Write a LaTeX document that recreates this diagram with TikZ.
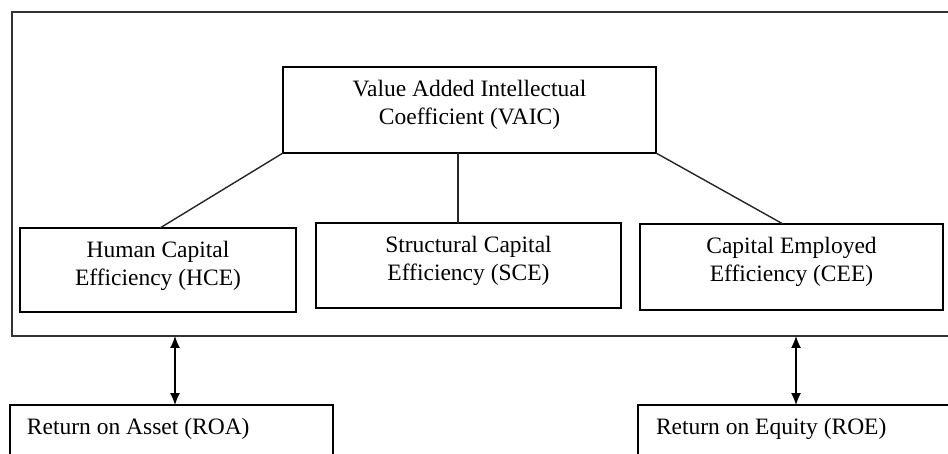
\documentclass[tikz,border=0pt]{standalone}
\usepackage{fontspec}
\setmainfont{Liberation Serif}
\usetikzlibrary{arrows.meta}
\begin{document}
\begin{tikzpicture}[x=1pt,y=-1pt,
  every node/.style={inner sep=0pt, outer sep=0pt},
  box/.style={draw=black, line width=1.4pt, rectangle, anchor=north west},
  outerbox/.style={draw=black!80, line width=1.7pt, rectangle, anchor=north west},
  txt/.style={anchor=north, align=center, font=\fontsize{23.5}{28}\selectfont},
  ltxt/.style={anchor=north west, align=left, font=\fontsize{23.5}{28}\selectfont},
  conn/.style={draw=black!85, line width=1.4pt},
  dbl/.style={draw=black, line width=1.2pt, {Latex[length=12pt,width=10pt]}-{Latex[length=12pt,width=10pt]}}
]
\useasboundingbox (0,0) rectangle (948,454);
\clip (0,0) rectangle (948,454);
\fill[white] (0,0) rectangle (948,454);

% outer frame
\node[outerbox, minimum width=960pt, minimum height=324pt] (outer) at (12,12) {};

% boxes
\node[box, minimum width=373pt, minimum height=86pt] (vaic) at (283,67) {};
\node[box, minimum width=276pt, minimum height=84pt] (hce) at (20,228) {};
\node[box, minimum width=305pt, minimum height=85pt] (sce) at (316,223) {};
\node[box, minimum width=303pt, minimum height=86pt] (cee) at (640,224) {};
\node[box, minimum width=323pt, minimum height=80pt] (roa) at (10,405) {};
\node[box, minimum width=340pt, minimum height=80pt] (roe) at (638,405) {};

% texts
\node[txt] (vaict) at ([yshift=-10.4pt]vaic.north) {\strut Value Added Intellectual\\Coefficient (VAIC)};
\node[txt] (hcet) at ([yshift=-10.4pt]hce.north) {\strut Human Capital\\Efficiency (HCE)};
\node[txt] (scet) at ([yshift=-10.4pt]sce.north) {\strut Structural Capital\\Efficiency (SCE)};
\node[txt] (ceet) at ([yshift=-10.4pt]cee.north) {\strut Capital Employed\\Efficiency (CEE)};
\node[ltxt] (roat) at ([xshift=17pt,yshift=-9.4pt]roa.north west) {\strut Return on Asset (ROA)};
\node[ltxt] (roet) at ([xshift=18pt,yshift=-9.4pt]roe.north west) {\strut Return on Equity (ROE)};

% connector anchor columns
\coordinate (c1) at (160,0);
\coordinate (c2) at (458,0);
\coordinate (c3) at (783,0);
\coordinate (a1) at (175,0);
\coordinate (a2) at (796,0);

\draw[conn] (vaic.south west) -- (hce.north -| c1);
\draw[conn] (vaic.south -| c2) -- (sce.north -| c2);
\draw[conn] (vaic.south east) -- (cee.north -| c3);

\draw[dbl] (outer.south -| a1) -- (roa.north -| a1);
\draw[dbl] (outer.south -| a2) -- (roe.north -| a2);
\end{tikzpicture}
\end{document}
